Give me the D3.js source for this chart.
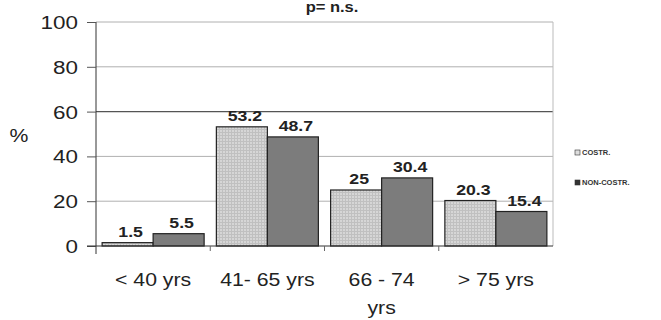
<!DOCTYPE html>
<html><head><meta charset="utf-8">
<script src="https://cdn.jsdelivr.net/npm/d3@7"></script>
<style>body{margin:0;background:#fff}svg{display:block;font-family:"Liberation Sans",Arial,sans-serif}</style>
</head><body><svg id="c" width="661" height="320"></svg>
<script>
const categories = ["< 40 yrs", "41- 65 yrs", "66 - 74|yrs", "> 75 yrs"];
const seriesNames = ["COSTR.", "NON-COSTR."];
const costr = [1.5, 53.2, 25, 20.3];
const nonCostr = [5.5, 48.7, 30.4, 15.4];
const valueLabels = [["1.5","53.2","25","20.3"],["5.5","48.7","30.4","15.4"]];
const yTicks = [0, 20, 40, 60, 80, 100];
const title = "p= n.s.";

const svg = d3.select("#c");
const defs = svg.append("defs");
const pat = defs.append("pattern").attr("id","grid").attr("width",3).attr("height",3).attr("patternUnits","userSpaceOnUse");
pat.append("rect").attr("width",3).attr("height",3).attr("fill","#d6d6d6");
pat.append("path").attr("d","M0,0.5H3M0.5,0V3").attr("stroke","#c0c0c0").attr("stroke-width",1);

const SX = 1.18; // horizontal stretch of scanned text
function sText(g, x, y, str, size, weight, anchor) {
  return g.append("text").attr("transform", `translate(${x},${y}) scale(${SX},1)`)
    .attr("text-anchor", anchor || "middle").attr("font-size", size)
    .attr("font-weight", weight || "normal").attr("fill", "#222").text(str);
}

const L = 96, R = 553, T = 22, B = 246;
const x0 = d3.scaleBand().domain(categories).range([L, R]);
const x1 = d3.scaleBand().domain(seriesNames).range([0, x0.bandwidth()]).paddingOuter(0.12);
const y = d3.scaleLinear().domain([0, 100]).range([B, T]);
const series = [costr, nonCostr];
const fills = ["url(#grid)", "#7c7c7c"];

// gridlines
svg.append("g").selectAll("line").data(yTicks.filter(d => d > 0)).join("line")
  .attr("x1", L).attr("x2", R).attr("y1", d => y(d)).attr("y2", d => y(d))
  .attr("stroke", d => d === 60 ? "#555" : "#b0b0b0").attr("stroke-width", d => d === 60 ? 1.3 : 1);
svg.append("line").attr("x1", R).attr("x2", R).attr("y1", T).attr("y2", B).attr("stroke", "#bbb");

// bars
const labels = svg.append("g");
seriesNames.forEach((s, si) => {
  svg.append("g").selectAll("rect").data(series[si]).join("rect")
    .attr("x", (d, i) => x0(categories[i]) + x1(s))
    .attr("y", d => y(d))
    .attr("width", x1.bandwidth())
    .attr("height", d => B - y(d))
    .attr("fill", fills[si]).attr("stroke", "#222").attr("stroke-width", 1.2);
  series[si].forEach((d, i) => {
    sText(labels, x0(categories[i]) + x1(s) + x1.bandwidth() / 2 + 3, y(d) - 6, valueLabels[si][i], 15, "bold");
  });
});

// y axis
const ya = svg.append("g").attr("transform", `translate(${L},0)`)
  .call(d3.axisLeft(y).tickValues(yTicks).tickSize(9).tickFormat(""));
ya.select(".domain").attr("stroke", "#333").attr("d", `M0,${T}V${B + 8}`);
ya.selectAll(".tick line").attr("stroke", "#555");
yTicks.forEach(t => sText(svg, 78, y(t) + 7, String(t), 19, "normal", "end"));

// x axis
svg.append("line").attr("x1", L - 9).attr("x2", R).attr("y1", B).attr("y2", B).attr("stroke", "#333");
svg.append("g").selectAll("line").data(categories.slice(1)).join("line")
  .attr("x1", d => x0(d)).attr("x2", d => x0(d)).attr("y1", B).attr("y2", B + 5).attr("stroke", "#666");
categories.forEach(c => {
  c.split("|").forEach((p, i) => sText(svg, x0(c) + x0.bandwidth() / 2, 286 + i * 28, p, 18));
});

// y title
sText(svg, 19, 142, "%", 18);
// title
sText(svg, 332, 12, title, 14, "bold");

// legend
const lg = svg.append("g").attr("transform", "translate(575,0)");
seriesNames.forEach((s, i) => {
  const yy = 155 + i * 30;
  lg.append("rect").attr("x", 0).attr("y", yy - 5).attr("width", 5).attr("height", 5)
    .attr("fill", i ? "#333" : "#ddd").attr("stroke", "#333").attr("stroke-width", 0.6);
  lg.append("text").attr("x", 7).attr("y", yy).attr("font-size", 7.5).attr("font-weight", "bold").attr("fill", "#333").text(s);
});
</script></body></html>
